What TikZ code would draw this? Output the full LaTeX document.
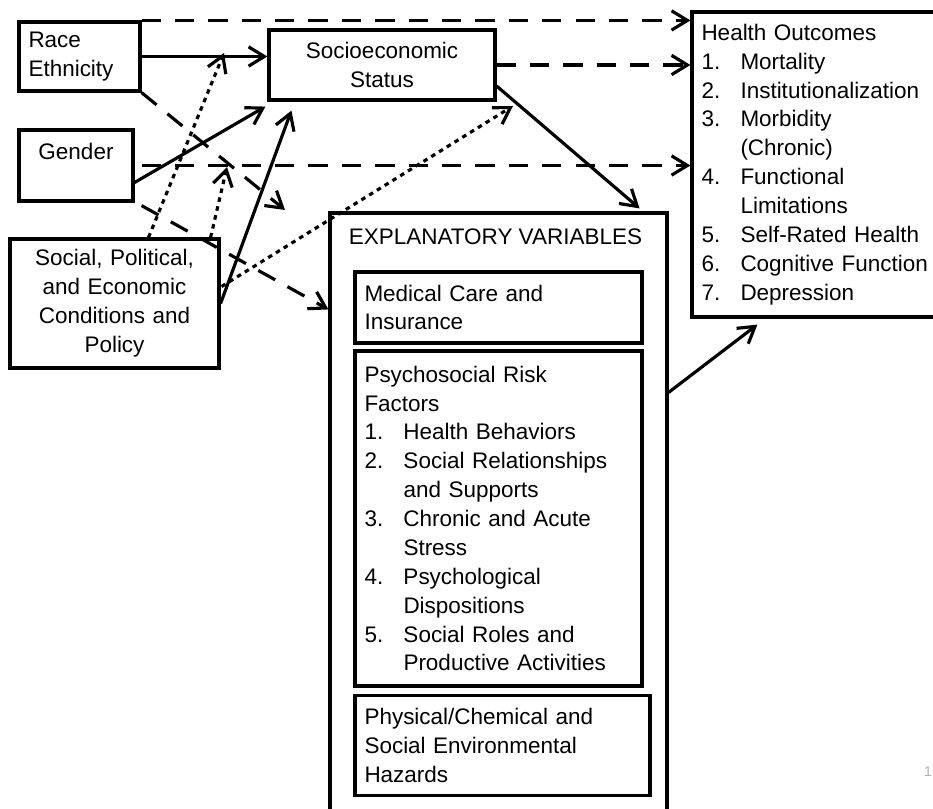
\documentclass[tikz,border=0pt]{standalone}
\usepackage{fontspec}
\setmainfont{Liberation Sans}
\usetikzlibrary{arrows.meta, calc, positioning}

\newlength{\pxu}\setlength{\pxu}{0.02cm}
\newcommand{\bodyfont}{\fontsize{12.8}{16.44}\selectfont}
\newcommand{\numitem}[2]{\makebox[39\pxu][l]{#1.}#2}
\newcommand{\contline}[1]{\hspace*{39\pxu}#1}

\begin{document}
\begin{tikzpicture}[x=0.02cm, y=-0.02cm, >={Straight Barb[length=9pt,width=11pt]},
    box/.style={draw, line width=1.8pt, inner xsep=9.5\pxu, inner ysep=0pt, font=\bodyfont},
    solidarrow/.style={->, line width=1.8pt},
    dasharrow/.style={->, line width=1.8pt, dash pattern=on 11pt off 8pt},
    dotarrow/.style={->, line width=1.8pt, dash pattern=on 2.6pt off 2.6pt}]
    \useasboundingbox (0,0) rectangle (933,808);
    \clip (0,0) rectangle (933,808);

    % determinants on the left
    \node[box, align=left, text width=102\pxu, minimum height=69\pxu] (race) at (79.5,56.5) {Race\\Ethnicity};
    \node[box, align=center, text width=95\pxu, minimum height=71\pxu] (gender) at (76,165.5) {Gender\\\mbox{}};
    \node[box, align=center, text width=190\pxu, minimum height=129\pxu] (social) at (114.5,303.5)
        {Social, Political,\\and Economic\\Conditions and\\Policy};
    \node[box, align=center, text width=207\pxu, minimum height=70\pxu] (ses) at (382,65) {Socioeconomic\\Status};

    % outcomes
    \node[box, align=left, text width=240\pxu, minimum height=305\pxu] (outcome) at (821.5,164.5)
        {Health Outcomes\\
         \numitem{1}{Mortality}\\
         \numitem{2}{Institutionalization}\\
         \numitem{3}{Morbidity}\\
         \contline{(Chronic)}\\
         \numitem{4}{Functional}\\
         \contline{Limitations}\\
         \numitem{5}{Self-Rated Health}\\
         \numitem{6}{Cognitive Function}\\
         \numitem{7}{Depression}};

    % explanatory variables
    \node[box, minimum width=337\pxu, minimum height=627\pxu,
        label={[anchor=north west, inner sep=0pt, font=\bodyfont, xshift=20\pxu, yshift=-17\pxu]north west:EXPLANATORY VARIABLES}]
        (expl) at (498.5,526.5) {};
    \node[box, align=left, text width=268\pxu, minimum height=71\pxu] (medical) at (498.5,307.5)
        {Medical Care and\\Insurance};
    \node[box, align=left, text width=268\pxu, minimum height=335\pxu] (psych) at (498.5,518.5)
        {Psychosocial Risk\\Factors\\
         \numitem{1}{Health Behaviors}\\
         \numitem{2}{Social Relationships}\\
         \contline{and Supports}\\
         \numitem{3}{Chronic and Acute}\\
         \contline{Stress}\\
         \numitem{4}{Psychological}\\
         \contline{Dispositions}\\
         \numitem{5}{Social Roles and}\\
         \contline{Productive Activities}};
    \node[box, align=left, text width=276\pxu, minimum height=100\pxu] (physical) at (502.5,745.5)
        {Physical/Chemical and\\Social Environmental\\Hazards};

    \node[text=gray!60, font=\fontsize{8}{9}\selectfont] (pagenum) at (928,772) {1};

    % free ends
    \coordinate (raceend) at (285,210);
    \coordinate (dotA) at (224,53);
    \coordinate (dotB) at (227,167);
    \coordinate (dotC) at (513,106);

    % dashed paths to outcomes
    \draw[dasharrow] (race.north east) -- (race.north east -| outcome.west);
    \draw[dasharrow] (ses.east) -- (ses.east -| outcome.west);
    \draw[dasharrow] ($(gender.east)+(7,0)$) -- (gender.east -| outcome.west);

    % into SES
    \draw[solidarrow] (race.east) -- (race.east -| ses.west);
    \draw[solidarrow] ($(gender.east)+(0,17)$) -- ($(ses.south west)+(-2,5)$);
    \draw[solidarrow] (social.east) -- ($(ses.south west)+(24,9)$);

    % dashed diagonals
    \draw[dasharrow] (race.south east) -- (raceend);
    \draw[dasharrow] ($(gender.south east)+(7,3)$) -- ($(expl.north west)+(0,98)$);

    % dotted from conditions and policy
    \draw[dotarrow] ($(social.north)+(34,0)$) -- (dotA);
    \draw[dotarrow] ($(social.north east)+(-10,0)$) -- (dotB);
    \draw[dotarrow] ($(social.east)+(1,-17)$) -- (dotC);

    % explanatory path
    \draw[solidarrow] ($(ses.east)+(0,21)$) -- ($(expl.north east)+(-29,-3)$);
    \draw[solidarrow] ($(expl.north east)+(0,181)$) -- ($(outcome.south west)+(67,6)$);
\end{tikzpicture}
\end{document}
